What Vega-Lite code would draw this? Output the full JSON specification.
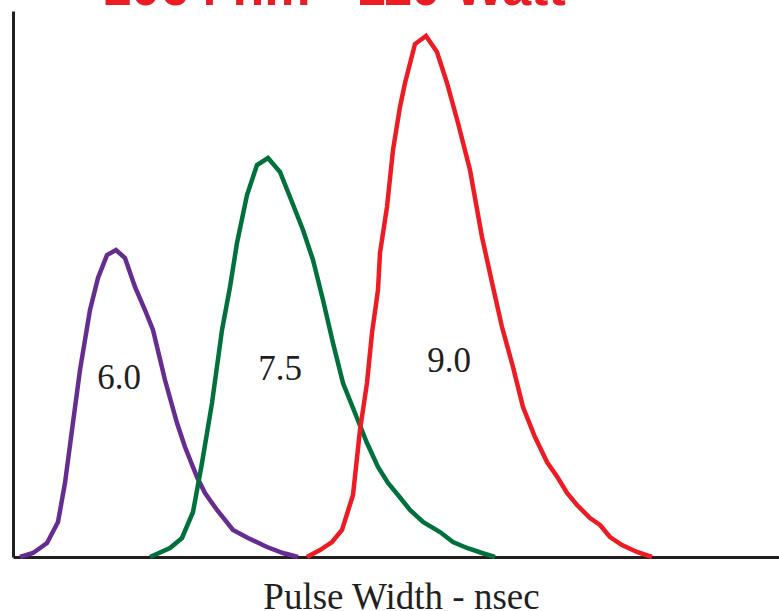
{
  "$schema": "https://vega.github.io/schema/vega-lite/v6.json",
  "width": 766,
  "height": 546,
  "autosize": {"type": "none"},
  "padding": {"left": 13, "top": 11, "right": 0, "bottom": 54},
  "background": "white",
  "title": {
    "text": "1064 nm - 110 Watt",
    "color": "#ed1c24",
    "font": "Liberation Sans",
    "fontWeight": "bold",
    "fontSize": 52,
    "anchor": "middle",
    "dx": -62,
    "baseline": "alphabetic",
    "offset": -46
  },
  "config": {"view": {"stroke": null}},
  "datasets": {
    "curves": [
      {"series": "6.0", "x": 7, "y": 0},
      {"series": "6.0", "x": 20, "y": 4},
      {"series": "6.0", "x": 34, "y": 14},
      {"series": "6.0", "x": 45, "y": 35},
      {"series": "6.0", "x": 52, "y": 74},
      {"series": "6.0", "x": 59, "y": 127},
      {"series": "6.0", "x": 67, "y": 187},
      {"series": "6.0", "x": 77, "y": 247},
      {"series": "6.0", "x": 85, "y": 279},
      {"series": "6.0", "x": 94, "y": 302},
      {"series": "6.0", "x": 103, "y": 307},
      {"series": "6.0", "x": 112, "y": 299},
      {"series": "6.0", "x": 122, "y": 270},
      {"series": "6.0", "x": 132, "y": 247},
      {"series": "6.0", "x": 140, "y": 227},
      {"series": "6.0", "x": 152, "y": 177},
      {"series": "6.0", "x": 164, "y": 134},
      {"series": "6.0", "x": 172, "y": 110},
      {"series": "6.0", "x": 184, "y": 80},
      {"series": "6.0", "x": 192, "y": 64},
      {"series": "6.0", "x": 204, "y": 47},
      {"series": "6.0", "x": 220, "y": 27},
      {"series": "6.0", "x": 235, "y": 19},
      {"series": "6.0", "x": 254, "y": 10},
      {"series": "6.0", "x": 270, "y": 4},
      {"series": "6.0", "x": 285, "y": 0},
      {"series": "7.5", "x": 137, "y": 0},
      {"series": "7.5", "x": 157, "y": 9},
      {"series": "7.5", "x": 169, "y": 19},
      {"series": "7.5", "x": 180, "y": 45},
      {"series": "7.5", "x": 189, "y": 94},
      {"series": "7.5", "x": 199, "y": 154},
      {"series": "7.5", "x": 209, "y": 227},
      {"series": "7.5", "x": 217, "y": 270},
      {"series": "7.5", "x": 224, "y": 314},
      {"series": "7.5", "x": 234, "y": 362},
      {"series": "7.5", "x": 244, "y": 392},
      {"series": "7.5", "x": 255, "y": 399},
      {"series": "7.5", "x": 267, "y": 385},
      {"series": "7.5", "x": 277, "y": 360},
      {"series": "7.5", "x": 290, "y": 327},
      {"series": "7.5", "x": 300, "y": 297},
      {"series": "7.5", "x": 310, "y": 257},
      {"series": "7.5", "x": 320, "y": 214},
      {"series": "7.5", "x": 330, "y": 174},
      {"series": "7.5", "x": 342, "y": 144},
      {"series": "7.5", "x": 354, "y": 114},
      {"series": "7.5", "x": 365, "y": 90},
      {"series": "7.5", "x": 375, "y": 74},
      {"series": "7.5", "x": 385, "y": 62},
      {"series": "7.5", "x": 397, "y": 47},
      {"series": "7.5", "x": 410, "y": 35},
      {"series": "7.5", "x": 427, "y": 25},
      {"series": "7.5", "x": 440, "y": 15},
      {"series": "7.5", "x": 454, "y": 9},
      {"series": "7.5", "x": 469, "y": 4},
      {"series": "7.5", "x": 482, "y": 0},
      {"series": "9.0", "x": 294, "y": 0},
      {"series": "9.0", "x": 307, "y": 7},
      {"series": "9.0", "x": 319, "y": 15},
      {"series": "9.0", "x": 329, "y": 27},
      {"series": "9.0", "x": 340, "y": 62},
      {"series": "9.0", "x": 347, "y": 127},
      {"series": "9.0", "x": 354, "y": 174},
      {"series": "9.0", "x": 359, "y": 224},
      {"series": "9.0", "x": 365, "y": 267},
      {"series": "9.0", "x": 367, "y": 304},
      {"series": "9.0", "x": 374, "y": 350},
      {"series": "9.0", "x": 380, "y": 407},
      {"series": "9.0", "x": 387, "y": 450},
      {"series": "9.0", "x": 392, "y": 474},
      {"series": "9.0", "x": 402, "y": 513},
      {"series": "9.0", "x": 413, "y": 521},
      {"series": "9.0", "x": 424, "y": 505},
      {"series": "9.0", "x": 434, "y": 474},
      {"series": "9.0", "x": 445, "y": 434},
      {"series": "9.0", "x": 457, "y": 387},
      {"series": "9.0", "x": 469, "y": 320},
      {"series": "9.0", "x": 480, "y": 270},
      {"series": "9.0", "x": 489, "y": 230},
      {"series": "9.0", "x": 500, "y": 190},
      {"series": "9.0", "x": 510, "y": 150},
      {"series": "9.0", "x": 522, "y": 120},
      {"series": "9.0", "x": 534, "y": 95},
      {"series": "9.0", "x": 545, "y": 79},
      {"series": "9.0", "x": 554, "y": 64},
      {"series": "9.0", "x": 564, "y": 52},
      {"series": "9.0", "x": 577, "y": 39},
      {"series": "9.0", "x": 587, "y": 32},
      {"series": "9.0", "x": 597, "y": 20},
      {"series": "9.0", "x": 609, "y": 12},
      {"series": "9.0", "x": 624, "y": 5},
      {"series": "9.0", "x": 639, "y": 0}
    ],
    "labels": [
      {"label": "6.0", "x": 106, "y": 168},
      {"label": "7.5", "x": 267, "y": 177},
      {"label": "9.0", "x": 436, "y": 185}
    ]
  },
  "layer": [
    {
      "data": {"name": "curves"},
      "mark": {"type": "line", "strokeWidth": 4.5},
      "encoding": {
        "x": {
          "field": "x",
          "type": "quantitative",
          "scale": {"domain": [0, 766], "nice": false, "zero": false},
          "axis": {
            "domain": true,
            "domainColor": "#231f20",
            "domainWidth": 3,
            "ticks": false,
            "labels": false,
            "grid": false,
            "title": "Pulse Width - nsec",
            "titleFont": "Liberation Serif",
            "titleFontSize": 37,
            "titleFontWeight": "normal",
            "titleColor": "#231f20",
            "titleBaseline": "alphabetic",
            "titlePadding": 51,
            "titleX": 388
          }
        },
        "y": {
          "field": "y",
          "type": "quantitative",
          "scale": {"domain": [0, 546], "nice": false},
          "axis": {
            "domain": true,
            "domainColor": "#231f20",
            "domainWidth": 3,
            "ticks": false,
            "labels": false,
            "grid": false,
            "title": null
          }
        },
        "color": {
          "field": "series",
          "type": "nominal",
          "scale": {"domain": ["6.0", "7.5", "9.0"], "range": ["#662d91", "#00703c", "#ed1c24"]},
          "legend": null
        }
      }
    },
    {
      "data": {"name": "labels"},
      "mark": {"type": "text", "font": "Liberation Serif", "fontSize": 35, "baseline": "alphabetic", "align": "center", "color": "#231f20"},
      "encoding": {
        "x": {"field": "x", "type": "quantitative"},
        "y": {"field": "y", "type": "quantitative"},
        "text": {"field": "label"}
      }
    }
  ]
}
